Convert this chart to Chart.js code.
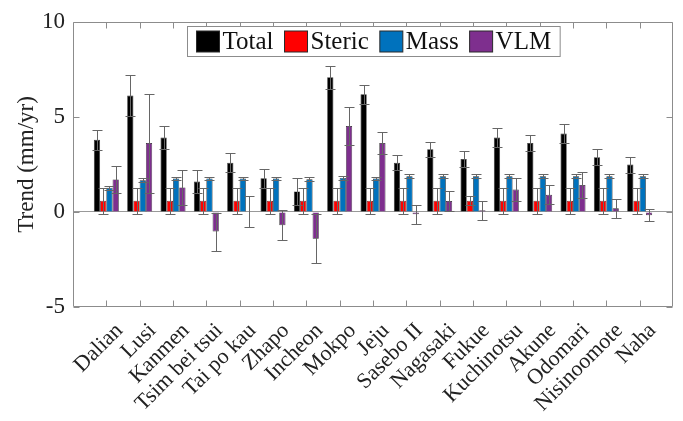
<!DOCTYPE html>
<html>
<head>
<meta charset="utf-8">
<script src="https://cdn.jsdelivr.net/npm/chart.js@4.4.0/dist/chart.umd.min.js"></script>
<style>
  html, body { margin: 0; padding: 0; background: #fff; }
</style>
</head>
<body>
<canvas id="myChart" width="683" height="421"></canvas>
<script>
const stations = ['Dalian', 'Lusi', 'Kanmen', 'Tsim bei tsui', 'Tai po kau', 'Zhapo', 'Incheon', 'Mokpo', 'Jeju',
  'Sasebo II', 'Nagasaki', 'Fukue', 'Kuchinotsu', 'Akune', 'Odomari', 'Nisinoomote', 'Naha'];

const total    = [3.79, 6.12, 3.91, 1.60, 2.59, 1.77, 1.08, 7.09, 6.19, 2.59, 3.30, 2.78, 3.91, 3.62, 4.12, 2.88, 2.49];
const totalErr = [0.52, 1.10, 0.60, 0.60, 0.50, 0.50, 0.70, 0.60, 0.50, 0.40, 0.40, 0.42, 0.50, 0.40, 0.50, 0.42, 0.42];
const steric    = [0.59, 0.59, 0.59, 0.59, 0.59, 0.59, 0.59, 0.59, 0.59, 0.59, 0.59, 0.59, 0.59, 0.59, 0.59, 0.59, 0.59];
const stericErr = [0.68, 0.68, 0.68, 0.68, 0.68, 0.68, 0.68, 0.68, 0.68, 0.68, 0.68, 0.24, 0.68, 0.68, 0.68, 0.68, 0.68];
const mass    = [1.27, 1.67, 1.76, 1.76, 1.76, 1.76, 1.72, 1.79, 1.76, 1.88, 1.88, 1.88, 1.88, 1.88, 1.88, 1.88, 1.88];
const massErr = [0.10, 0.10, 0.10, 0.10, 0.10, 0.10, 0.10, 0.10, 0.10, 0.10, 0.10, 0.10, 0.10, 0.10, 0.10, 0.10, 0.10];
const vlm    = [1.71, 3.62, 1.29, -1.03, 0.02, -0.70, -1.41, 4.52, 3.62, -0.12, 0.57, 0.09, 1.18, 0.90, 1.41, 0.19, -0.17];
const vlmErr = [0.70, 2.60, 0.90, 1.00, 0.80, 0.80, 1.30, 1.00, 0.57, 0.50, 0.52, 0.50, 0.60, 0.50, 0.70, 0.50, 0.30];

const yTicks = [-5, 0, 5, 10];

const serif = '"Liberation Serif", "Times New Roman", "DejaVu Serif", serif';
const axisGray = '#8c8c8c';

const points = (vals) => vals.map((v, i) => ({ x: i + 1, y: v }));

function series(label, vals, errs, color) {
  return {
    label: label,
    data: points(vals),
    errors: errs,
    backgroundColor: color,
    borderColor: '#2a2a2a',
    borderWidth: 0.7,
    barPercentage: 1,
    categoryPercentage: 0.75
  };
}

// error bars on top of each bar
const errorBars = {
  id: 'errorBars',
  afterDatasetsDraw(chart) {
    const ctx = chart.ctx;
    const ys = chart.scales.y;
    ctx.save();
    ctx.strokeStyle = '#666';
    ctx.lineWidth = 1;
    chart.data.datasets.forEach((ds, i) => {
      chart.getDatasetMeta(i).data.forEach((bar, j) => {
        const v = ds.data[j].y, e = ds.errors[j];
        const x = Math.round(bar.x) + 0.5;
        const yt = Math.round(ys.getPixelForValue(v + e)) + 0.5;
        const yb = Math.round(ys.getPixelForValue(v - e)) + 0.5;
        ctx.beginPath();
        ctx.moveTo(x, yt); ctx.lineTo(x, yb);
        ctx.moveTo(x - 5, yt); ctx.lineTo(x + 5, yt);
        ctx.moveTo(x - 5, yb); ctx.lineTo(x + 5, yb);
        ctx.stroke();
      });
    });
    ctx.restore();
  }
};

// box round the plot with inward ticks, and the legend inside
const frame = {
  id: 'frame',
  afterDraw(chart) {
    const ctx = chart.ctx;
    const a = chart.chartArea;
    const xs = chart.scales.x, ys = chart.scales.y;
    const L = Math.round(a.left) + 0.5, R = Math.round(a.right) - 0.5;
    const T = Math.round(a.top) + 0.5, B = Math.round(a.bottom) - 0.5;
    ctx.save();
    ctx.strokeStyle = axisGray;
    ctx.lineWidth = 1;
    ctx.beginPath();
    ctx.rect(L, T, R - L, B - T);
    stations.forEach((s, i) => {
      const x = Math.round(xs.getPixelForValue(i + 1)) + 0.5;
      ctx.moveTo(x, B); ctx.lineTo(x, B - 6);
      ctx.moveTo(x, T); ctx.lineTo(x, T + 6);
    });
    yTicks.forEach(v => {
      const y = Math.round(ys.getPixelForValue(v)) + 0.5;
      ctx.moveTo(L, y); ctx.lineTo(L + 6, y);
      ctx.moveTo(R, y); ctx.lineTo(R - 6, y);
    });
    ctx.stroke();

    // legend
    ctx.font = '25px ' + serif;
    ctx.textBaseline = 'middle';
    const sw = 23, sh = 21, gap = 3, between = 11, pad = 9;
    const items = chart.data.datasets.map(ds => ({ label: ds.label, color: ds.backgroundColor, w: ctx.measureText(ds.label).width }));
    let width = pad * 2;
    items.forEach((it, k) => { width += sw + gap + it.w + (k ? between : 0); });
    const boxH = 30;
    const bx = Math.round((a.left + a.right) / 2 - width / 2) + 0.5;
    const by = Math.round(a.top + 4) + 0.5;
    ctx.fillStyle = '#fff';
    ctx.fillRect(bx, by, width, boxH);
    ctx.strokeStyle = axisGray;
    ctx.strokeRect(bx, by, width, boxH);
    let x = bx + pad;
    const cy = by + boxH / 2;
    items.forEach(it => {
      ctx.fillStyle = it.color;
      ctx.fillRect(x, cy - sh / 2, sw, sh);
      ctx.strokeStyle = '#2a2a2a';
      ctx.strokeRect(x, cy - sh / 2, sw, sh);
      ctx.fillStyle = '#111';
      ctx.fillText(it.label, x + sw + gap, cy + 1);
      x += sw + gap + it.w + between;
    });
    ctx.restore();
  }
};

new Chart(document.getElementById('myChart'), {
  type: 'bar',
  data: {
    datasets: [
      series('Total', total, totalErr, '#000000'),
      series('Steric', steric, stericErr, '#FF0000'),
      series('Mass', mass, massErr, '#0072BD'),
      series('VLM', vlm, vlmErr, '#7E2F8E')
    ]
  },
  options: {
    responsive: false,
    animation: false,
    events: [],
    layout: { padding: { top: 19, right: 10, left: 0, bottom: 0 } },
    plugins: {
      legend: { display: false },
      tooltip: { enabled: false }
    },
    scales: {
      x: {
        type: 'linear',
        min: 0,
        max: stations.length + 1,
        offset: false,
        grid: { display: false, drawTicks: false, offset: false },
        border: { display: false },
        afterFit: (s) => { s.height = 114; s.paddingLeft = 0; s.paddingRight = 0; },
        ticks: {
          stepSize: 1,
          autoSkip: false,
          minRotation: 45,
          maxRotation: 45,
          padding: 11,
          labelOffset: 13,
          color: '#222',
          font: { family: serif, size: 22 },
          callback: (v) => stations[v - 1] || ''
        }
      },
      y: {
        min: -5,
        max: 10,
        grid: {
          drawTicks: false,
          color: (c) => c.tick && c.tick.value === 0 ? '#999' : 'rgba(0,0,0,0)'
        },
        border: { display: false },
        afterFit: (s) => { s.width = 73; },
        afterBuildTicks: (s) => { s.ticks = yTicks.map(v => ({ value: v })); },
        ticks: {
          padding: 8,
          color: '#222',
          font: { family: serif, size: 23 }
        },
        title: {
          display: true,
          text: 'Trend (mm/yr)',
          color: '#222',
          font: { family: serif, size: 23 },
          padding: { top: 13, bottom: 0 }
        }
      }
    }
  },
  plugins: [errorBars, frame]
});
</script>
</body>
</html>
